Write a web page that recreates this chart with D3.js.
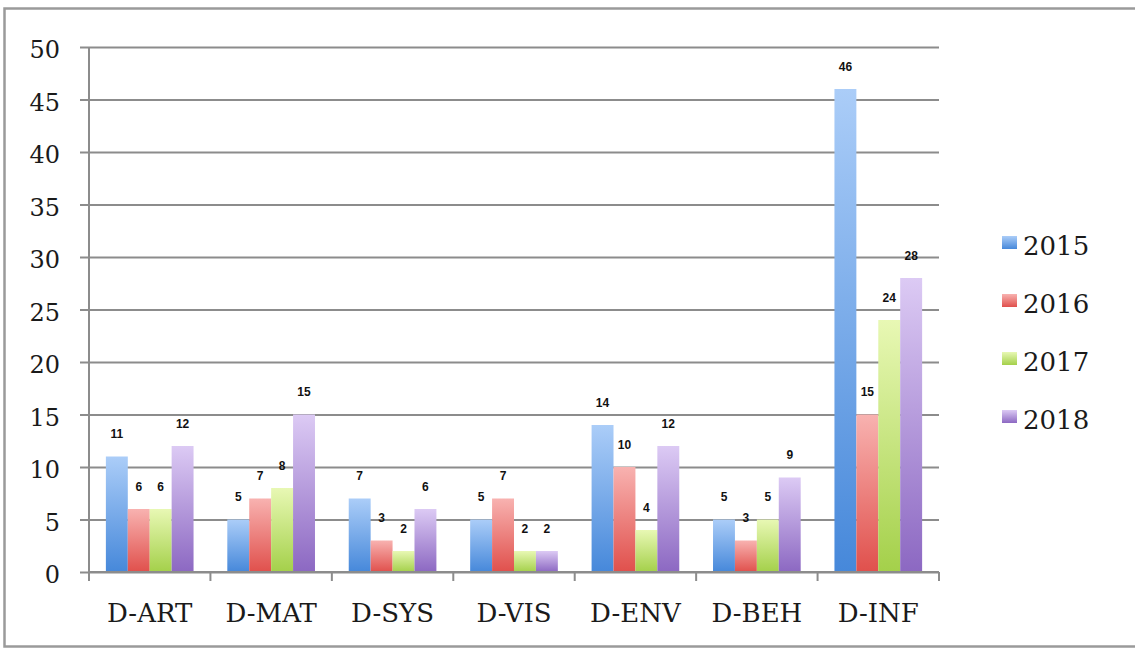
<!DOCTYPE html>
<html>
<head>
<meta charset="utf-8">
<script src="https://cdn.jsdelivr.net/npm/d3@7"></script>
<style>
  body { margin: 0; background: #fff; }
</style>
</head>
<body>
<svg></svg>
<script>
// data
var categories = ["D-ART", "D-MAT", "D-SYS", "D-VIS", "D-ENV", "D-BEH", "D-INF"]
var years = ["2015", "2016", "2017", "2018"]
var v2015 = [11, 5, 7, 5, 14, 5, 46]
var v2016 = [6, 7, 3, 7, 10, 3, 15]
var v2017 = [6, 8, 2, 2, 4, 5, 24]
var v2018 = [12, 15, 6, 2, 12, 9, 28]
var yTicks = [0, 5, 10, 15, 20, 25, 30, 35, 40, 45, 50]

var series = [v2015, v2016, v2017, v2018]
var rows = categories.map(function(c, i) {
    return { cat: c, values: years.map(function(y, j) { return { year: y, value: series[j][i] } }) }
})

var width = 1135
var height = 654
var plotL = 89, plotR = 939, plotT = 47, plotB = 572

// gradient ends, light top / dark bottom
var colors = {
    "2015": ["#abcdf8", "#4688da"],
    "2016": ["#f8b2b0", "#e0504c"],
    "2017": ["#e8f8b4", "#a4d04a"],
    "2018": ["#dccaf4", "#8c68c2"]
}

var svg = d3.select("svg")
    .attr("width", width)
    .attr("height", height)
    .style("font-family", "'DejaVu Serif', serif")

var defs = svg.append("defs")
years.forEach(function(y) {
    var grad = defs.append("linearGradient")
        .attr("id", "grad" + y)
        .attr("x1", 0).attr("y1", 0).attr("x2", 0).attr("y2", 1)
    grad.append("stop").attr("offset", "0%").attr("stop-color", colors[y][0])
    grad.append("stop").attr("offset", "100%").attr("stop-color", colors[y][1])
})

// outer frame (right side runs off the page)
svg.append("rect")
    .attr("x", 4.5).attr("y", 8.5)
    .attr("width", 1140).attr("height", 638)
    .attr("fill", "none")
    .attr("stroke", "#9a9a9a")
    .attr("stroke-width", 2.5)

var y = d3.scaleLinear().domain([0, 50]).range([plotB, plotT])

var x0 = d3.scaleBand()
    .domain(categories)
    .range([plotL, plotR])

var x1 = d3.scaleBand()
    .domain(years)
    .range([0, x0.bandwidth()])
    .paddingOuter(0.77)

// gridlines + left ticks
svg.append("g")
    .attr("transform", "translate(" + plotR + ",0)")
    .call(d3.axisLeft(y).tickValues(yTicks).tickSize(plotR - plotL + 9).tickFormat(""))
    .call(function(g) {
        g.select(".domain").remove()
        g.selectAll("line").attr("stroke", "#8c8c8c").attr("stroke-width", 2)
    })

// y labels
svg.append("g")
    .selectAll("text")
    .data(yTicks)
    .enter().append("text")
    .attr("x", 60)
    .attr("y", function(d) { return y(d) + 11 })
    .attr("text-anchor", "end")
    .style("font-size", "24px")
    .style("fill", "#1a1a1a")
    .text(function(d) { return d })

// y axis line
svg.append("line")
    .attr("x1", plotL).attr("x2", plotL)
    .attr("y1", plotT).attr("y2", plotB + 9)
    .attr("stroke", "#8c8c8c").attr("stroke-width", 2)

// bars
var group = svg.append("g")
    .selectAll("g")
    .data(rows)
    .enter().append("g")
    .attr("transform", function(d) { return "translate(" + x0(d.cat) + ",0)" })

group.selectAll("rect")
    .data(function(d) { return d.values })
    .enter().append("rect")
    .attr("x", function(d) { return x1(d.year) })
    .attr("y", function(d) { return y(d.value) })
    .attr("width", x1.bandwidth())
    .attr("height", function(d) { return y(0) - y(d.value) })
    .attr("fill", function(d) { return "url(#grad" + d.year + ")" })

// value labels
group.selectAll("text")
    .data(function(d) { return d.values })
    .enter().append("text")
    .attr("x", function(d) { return x1(d.year) + x1.bandwidth() / 2 })
    .attr("y", function(d) { return y(d.value) - 18.5 })
    .attr("text-anchor", "middle")
    .style("font-family", "'Liberation Sans', Arial, sans-serif")
    .style("font-weight", "bold")
    .style("font-size", "12px")
    .style("fill", "#111")
    .text(function(d) { return d.value })

// x axis line
svg.append("line")
    .attr("x1", plotL).attr("x2", plotR)
    .attr("y1", plotB).attr("y2", plotB)
    .attr("stroke", "#8c8c8c").attr("stroke-width", 2)

// ticks at the band edges
var edges = categories.map(function(c) { return x0(c) }).concat([plotR])
svg.append("g")
    .selectAll("line")
    .data(edges)
    .enter().append("line")
    .attr("x1", function(d) { return d }).attr("x2", function(d) { return d })
    .attr("y1", plotB).attr("y2", plotB + 9)
    .attr("stroke", "#8c8c8c").attr("stroke-width", 2)

svg.append("g")
    .selectAll("text")
    .data(categories)
    .enter().append("text")
    .attr("x", function(d) { return x0(d) + x0.bandwidth() / 2 })
    .attr("y", 622)
    .attr("text-anchor", "middle")
    .style("font-size", "26px")
    .style("fill", "#1a1a1a")
    .text(function(d) { return d })

// legend
var legend = svg.append("g")
    .selectAll("g")
    .data(years)
    .enter().append("g")
    .attr("transform", function(d, i) { return "translate(1002," + (255 + i * 58) + ")" })

legend.append("rect")
    .attr("x", 0).attr("y", -19)
    .attr("width", 15).attr("height", 13)
    .attr("fill", function(d) { return "url(#grad" + d + ")" })

legend.append("text")
    .attr("x", 21).attr("y", 0)
    .style("font-size", "26px")
    .style("fill", "#1a1a1a")
    .text(function(d) { return d })
</script>
</body>
</html>
